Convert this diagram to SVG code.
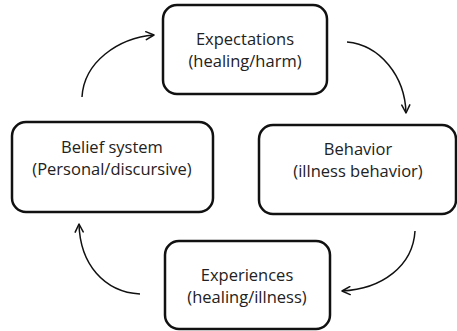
<svg xmlns="http://www.w3.org/2000/svg" width="457" height="331" viewBox="0 0 457 331">
  <defs>
    <marker id="open-arrow" viewBox="0 0 10 10" refX="9" refY="5" markerWidth="10" markerHeight="10" markerUnits="userSpaceOnUse" orient="auto">
      <path d="M1,1 L9,5 L1,9" fill="none" stroke="#111" stroke-width="1.5" stroke-linecap="round" stroke-linejoin="round"/>
    </marker>
  </defs>
  <style>
    .box { fill: #fff; stroke: #111; stroke-width: 2.5; }
    .lbl { font-family: "Open Sans", "Liberation Sans", sans-serif; font-size: 16.5px; fill: #222; text-anchor: middle; }
    .link { fill: none; stroke: #111; stroke-width: 1.5; marker-end: url(#open-arrow); }
  </style>
  <rect width="457" height="331" fill="#fff"/>

  <g id="connectors">
    <path class="link" d="M82,97 C84,62 118,38 154,35"/>
    <path class="link" d="M347,42 C380,45 405,76 406,113"/>
    <path class="link" d="M415,231 C413,266 382,289 342,291"/>
    <path class="link" d="M140,294 C104,292 80,264 79,224"/>
  </g>

  <g id="expectations">
    <rect class="box" x="163" y="5" width="164" height="89" rx="14"/>
    <text class="lbl" x="245" y="45">Expectations</text>
    <text class="lbl" x="245" y="67">(healing/harm)</text>
  </g>

  <g id="behavior">
    <rect class="box" x="259" y="125" width="197" height="89" rx="14"/>
    <text class="lbl" x="358" y="155">Behavior</text>
    <text class="lbl" x="358" y="177">(illness behavior)</text>
  </g>

  <g id="experiences">
    <rect class="box" x="165" y="241" width="165" height="88" rx="14"/>
    <text class="lbl" x="247" y="281">Experiences</text>
    <text class="lbl" x="247" y="303">(healing/illness)</text>
  </g>

  <g id="belief-system">
    <rect class="box" x="12" y="122" width="201" height="90" rx="14"/>
    <text class="lbl" x="112" y="153">Belief system</text>
    <text class="lbl" x="112" y="175">(Personal/discursive)</text>
  </g>
</svg>
